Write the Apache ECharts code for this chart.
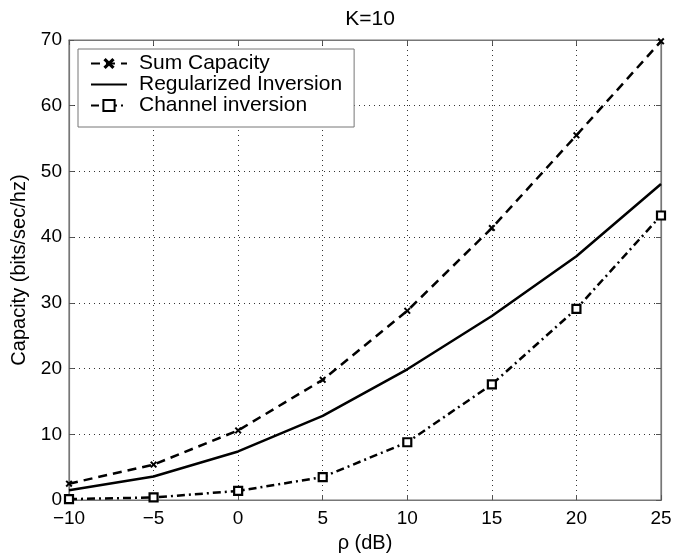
<!DOCTYPE html>
<html>
<head>
<meta charset="utf-8">
<script src="https://cdn.jsdelivr.net/npm/echarts@6/dist/echarts.min.js"></script>
<style>
  html, body { margin: 0; padding: 0; background: #fff; }
  #chart { width: 699px; height: 558px; }
</style>
</head>
<body>
<div id="chart"></div>
<script>
const rho = [-10, -5, 0, 5, 10, 15, 20, 25];
const sumCapacity = [2.5, 5.4, 10.6, 18.3, 28.8, 41.4, 55.5, 69.8];
const regularized = [1.5, 3.6, 7.4, 12.8, 19.9, 28.0, 37.1, 48.1];
const channelInv = [0.15, 0.4, 1.4, 3.5, 8.8, 17.6, 29.1, 43.3];

const FONT = "Liberation Sans";
const xMark = "path://M0,2 L2,0 L5,3 L8,0 L10,2 L7,5 L10,8 L8,10 L5,7 L2,10 L0,8 L3,5 Z";

const pairs = (ys) => rho.map((x, i) => [x, ys[i]]);
const minus = (v) => String(v).replace("-", "\u2212");

const gridLine = { show: true, lineStyle: { color: "#333", width: 1, type: [1, 4] } };
const boxLine = { show: true, onZero: false, lineStyle: { color: "#777", width: 1.2 } };
const inTick = { show: true, inside: true, length: 5, lineStyle: { color: "#555" } };

const chart = echarts.init(document.getElementById("chart"));
chart.setOption({
  animation: false,
  textStyle: { fontFamily: FONT },
  title: {
    text: "K=10",
    left: 365, top: 4, textAlign: "center",
    textStyle: { fontFamily: FONT, fontSize: 21, fontWeight: "normal", color: "#000" }
  },
  grid: { left: 69, right: 38, top: 40, bottom: 52, show: true, borderColor: "#777", borderWidth: 1.2 },
  legend: {
    orient: "vertical",
    left: 78, top: 49,
    padding: [4, 12, 11, 12],
    itemGap: 0,
    itemWidth: 36, itemHeight: 14,
    backgroundColor: "#fff",
    borderColor: "#777", borderWidth: 1,
    textStyle: { fontFamily: FONT, fontSize: 21, lineHeight: 20.5, color: "#000", padding: [0, 0, 0, 7] },
    data: [
      "Sum Capacity",
      { name: "Regularized Inversion", itemStyle: { opacity: 0 } },
      "Channel inversion"
    ]
  },
  xAxis: [{
    type: "value", min: -10, max: 25, interval: 5,
    name: "\u03c1 (dB)", nameLocation: "middle", nameGap: 31,
    nameTextStyle: { fontFamily: FONT, fontSize: 20, color: "#000" },
    axisLine: boxLine, axisTick: inTick, splitLine: gridLine,
    axisLabel: { fontFamily: FONT, fontSize: 19, color: "#000", margin: 9, formatter: minus }
  }, {
    type: "value", min: -10, max: 25, interval: 5, position: "top",
    axisLine: boxLine, axisTick: inTick, axisLabel: { show: false }, splitLine: { show: false }
  }],
  yAxis: [{
    type: "value", min: 0, max: 70, interval: 10,
    name: "Capacity (bits/sec/hz)", nameLocation: "middle", nameGap: 37,
    nameTextStyle: { fontFamily: FONT, fontSize: 20, color: "#000" },
    axisLine: boxLine, axisTick: inTick, splitLine: gridLine,
    axisLabel: { fontFamily: FONT, fontSize: 19, color: "#000", margin: 7 }
  }, {
    type: "value", min: 0, max: 70, interval: 10, position: "right",
    axisLine: boxLine, axisTick: inTick, axisLabel: { show: false }, splitLine: { show: false }
  }],
  series: [{
    name: "Sum Capacity", type: "line", data: pairs(sumCapacity),
    symbol: xMark, symbolSize: 7, showAllSymbol: true,
    lineStyle: { color: "#000", width: 2.5, type: [9, 6] },
    itemStyle: { color: "#000" }
  }, {
    name: "Regularized Inversion", type: "line", data: pairs(regularized),
    symbol: "none",
    lineStyle: { color: "#000", width: 2.5 },
    itemStyle: { color: "#000" }
  }, {
    name: "Channel inversion", type: "line", data: pairs(channelInv),
    symbol: "rect", symbolSize: 8,
    lineStyle: { color: "#000", width: 2.5, type: [8, 4, 2, 4] },
    itemStyle: { color: "#fff", borderColor: "#000", borderWidth: 2.2 }
  }]
});
</script>
</body>
</html>
